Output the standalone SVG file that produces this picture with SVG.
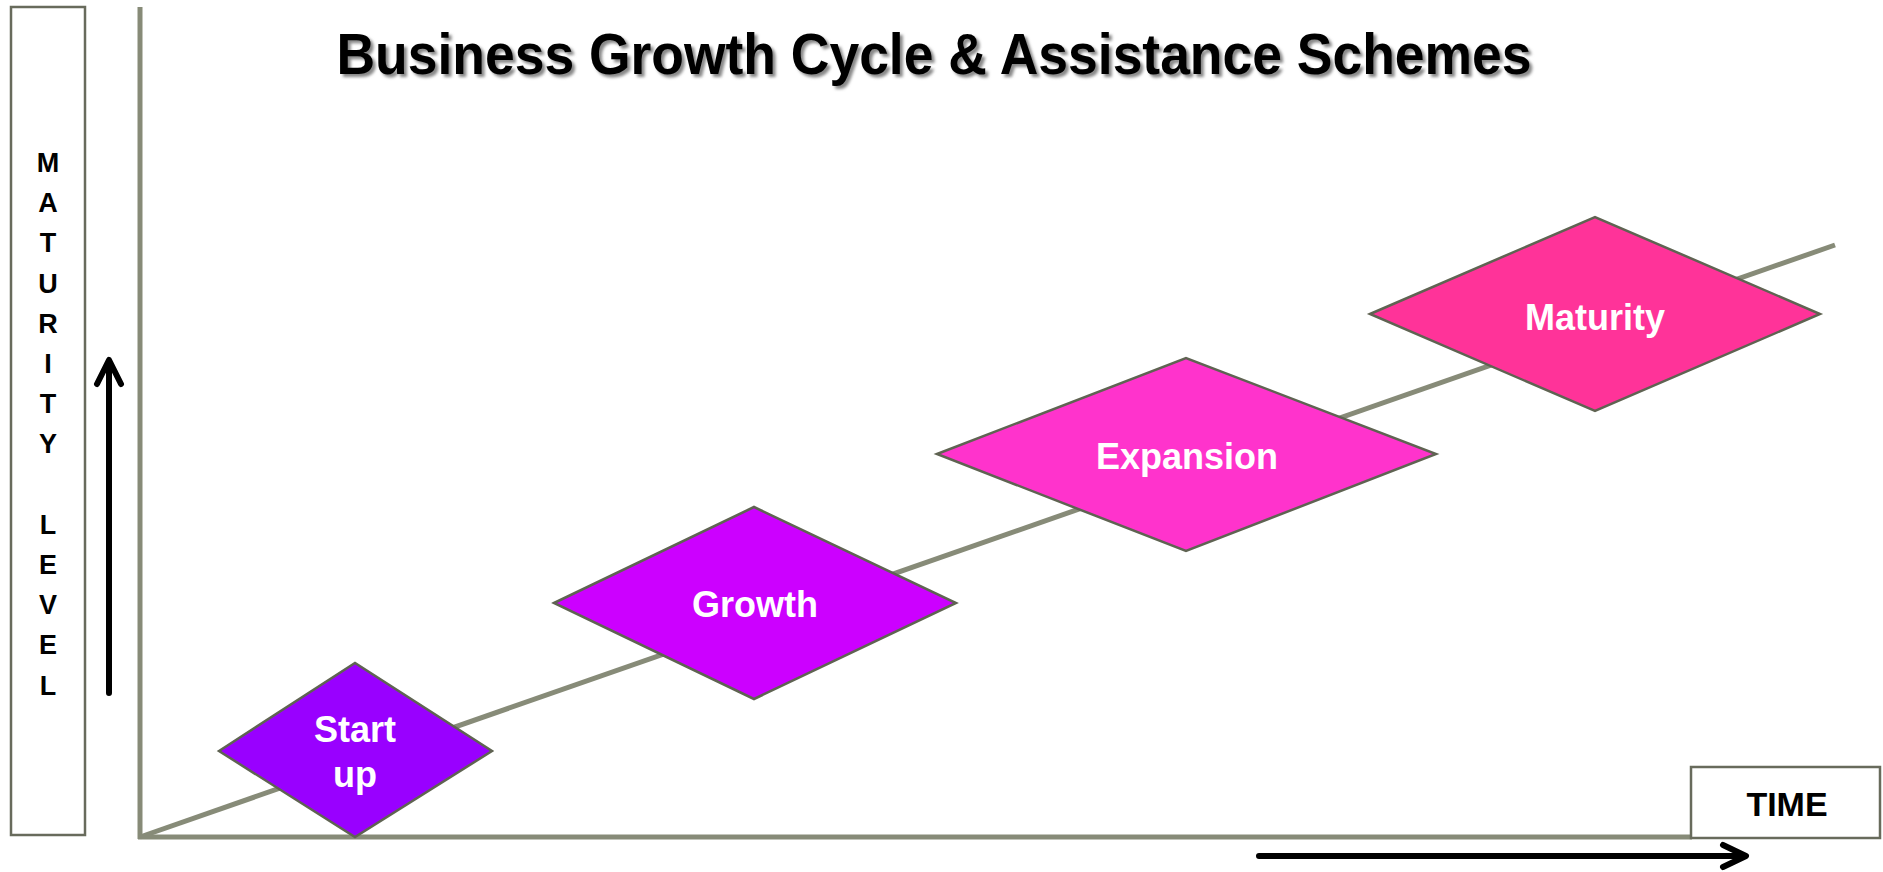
<svg xmlns="http://www.w3.org/2000/svg" width="1883" height="872" viewBox="0 0 1883 872">
<defs>
<style>
.axis{stroke:#878b78;stroke-width:5;fill:none}
.box{fill:#fff;stroke:#686b5c;stroke-width:2.5}
.dia{stroke:#5f6352;stroke-width:2.5}
.lbl{font-family:"Liberation Sans",Arial,sans-serif;font-weight:bold;font-size:36px;fill:#fff;text-anchor:middle}
.side{font-family:"Liberation Sans",Arial,sans-serif;font-weight:bold;font-size:27px;fill:#000;text-anchor:middle}
.arr{stroke:#000;stroke-width:6;fill:none;stroke-linecap:round;stroke-linejoin:round}
</style>
<filter id="sh" x="-5%" y="-20%" width="110%" height="140%">
<feGaussianBlur stdDeviation="1.5"/>
</filter>
</defs>
<rect width="1883" height="872" fill="#fff"/>

<g id="title">
<text x="937" y="77" font-family="'Liberation Sans',Arial,sans-serif" font-weight="bold" font-size="58" fill="#888" text-anchor="middle" textLength="1195" lengthAdjust="spacingAndGlyphs" filter="url(#sh)">Business Growth Cycle &amp; Assistance Schemes</text>
<text x="934" y="74" font-family="'Liberation Sans',Arial,sans-serif" font-weight="bold" font-size="58" fill="#000" text-anchor="middle" textLength="1195" lengthAdjust="spacingAndGlyphs">Business Growth Cycle &amp; Assistance Schemes</text>
</g>

<g id="connectors">
<line class="axis" x1="140" y1="837" x2="1835" y2="245"/>
<line class="axis" x1="140" y1="7" x2="140" y2="839"/>
<line class="axis" x1="138" y1="837" x2="1692" y2="837"/>
<path class="arr" d="M109 693 V361 M97 384 L109 360 L121 384"/>
<path class="arr" d="M1259 856 H1745 M1723 845 L1746 856 L1723 867"/>
</g>

<g id="y-label">
<rect class="box" x="11" y="7" width="74" height="828"/>
<text class="side" x="48"><tspan x="48" y="172">M</tspan><tspan x="48" y="212">A</tspan><tspan x="48" y="252">T</tspan><tspan x="48" y="293">U</tspan><tspan x="48" y="333">R</tspan><tspan x="48" y="373">I</tspan><tspan x="48" y="413">T</tspan><tspan x="48" y="453">Y</tspan><tspan x="48" y="534">L</tspan><tspan x="48" y="574">E</tspan><tspan x="48" y="614">V</tspan><tspan x="48" y="654">E</tspan><tspan x="48" y="695">L</tspan></text>
</g>

<g id="x-label">
<rect class="box" x="1691" y="767" width="189" height="71"/>
<text x="1787" y="816" font-family="'Liberation Sans',Arial,sans-serif" font-weight="bold" font-size="34" fill="#000" text-anchor="middle">TIME</text>
</g>

<g id="startup">
<polygon class="dia" fill="#9900ff" points="219,751 355,663 492,751 355,837"/>
<text class="lbl"><tspan x="355" y="742">Start</tspan><tspan x="355" y="787">up</tspan></text>
</g>

<g id="growth">
<polygon class="dia" fill="#cc00ff" points="554,603 754,507 956,603 754,699"/>
<text class="lbl" x="755" y="617">Growth</text>
</g>

<g id="expansion">
<polygon class="dia" fill="#ff33cc" points="937,454 1186,358 1436,454 1186,551"/>
<text class="lbl" x="1187" y="469">Expansion</text>
</g>

<g id="maturity">
<polygon class="dia" fill="#ff3399" points="1370,314 1595,217 1820,314 1595,411"/>
<text class="lbl" x="1595" y="330">Maturity</text>
</g>
</svg>
